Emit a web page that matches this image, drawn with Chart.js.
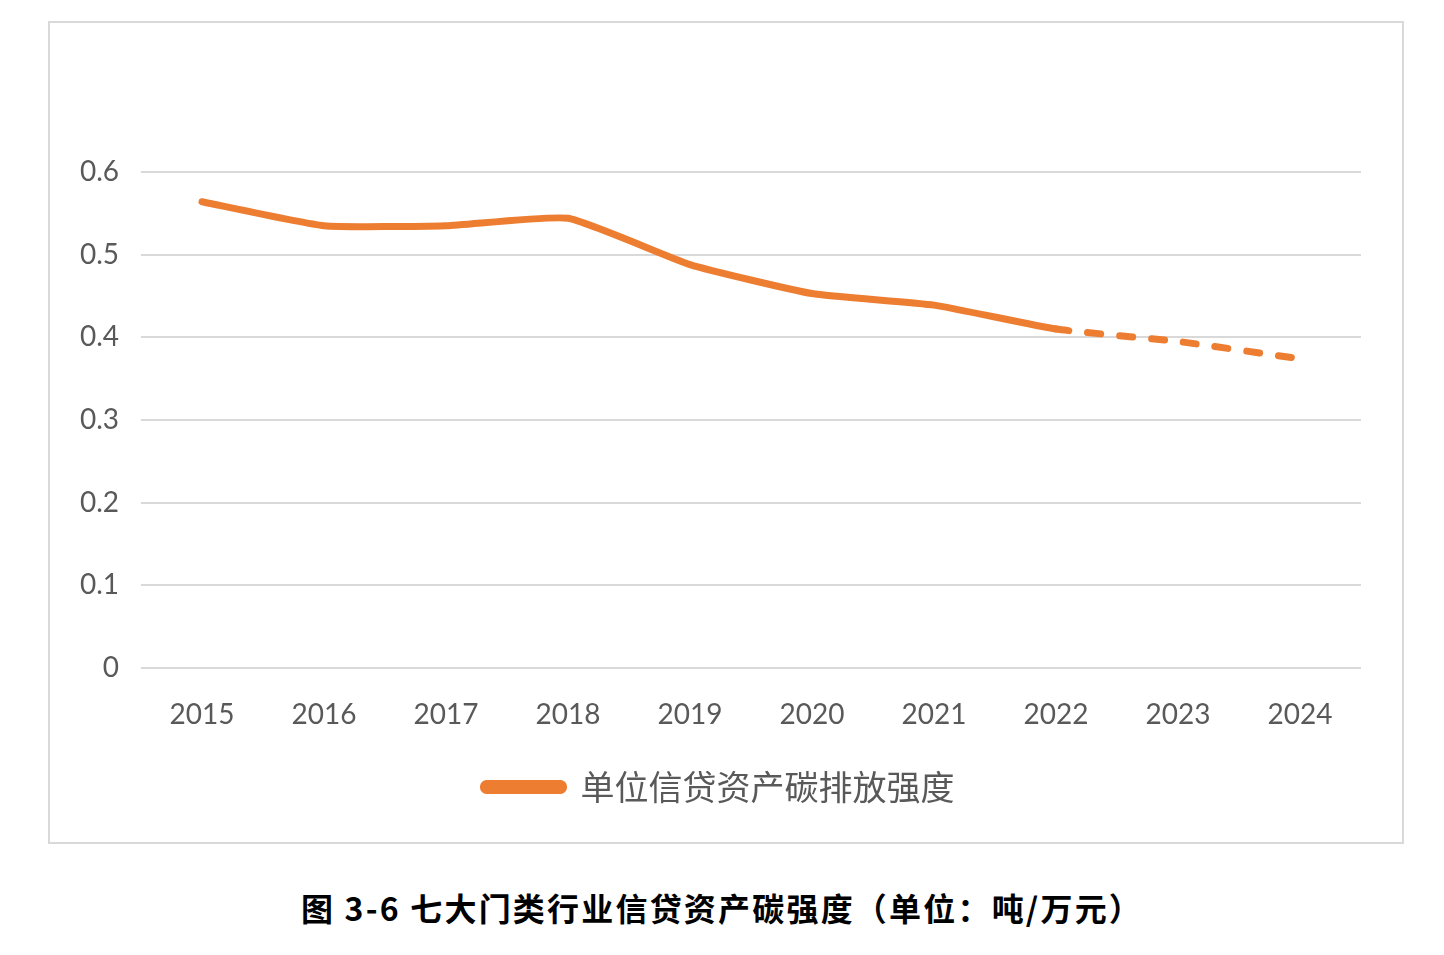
<!DOCTYPE html>
<html>
<head>
<meta charset="utf-8">
<script src="https://cdn.jsdelivr.net/npm/chart.js@4"></script>
<style>
  html, body { margin: 0; padding: 0; background: #fff; width: 1444px; height: 955px; overflow: hidden; }
  #box { position: absolute; left: 48px; top: 21px; width: 1356px; height: 823px; border: 2px solid #d9d9d9; box-sizing: border-box; }
  #chart { position: absolute; left: 77px; top: 23px; }
  #caption { position: absolute; left: 0; width: 1444px; top: 884px; text-align: center; letter-spacing: 2.2px;
    font-family: "Noto Sans CJK SC", sans-serif; font-weight: 700; font-size: 32px; color: #000; }
</style>
</head>
<body>
<div id="box"></div>
<canvas id="chart" width="1325" height="819"></canvas>
<div id="caption">图 3-6 七大门类行业信贷资产碳强度（单位：吨/万元）</div>
<script>
    // years on the x axis
    var years = ['2015', '2016', '2017', '2018', '2019', '2020', '2021', '2022', '2023', '2024'];
    // carbon intensity per unit of credit assets (t / 10k yuan)
    var intensity = [0.564, 0.535, 0.535, 0.544, 0.488, 0.453, 0.439, 0.410, 0.395, 0.374];
    // from this index on the line is a forecast (dashed)
    var forecastFrom = 7;
    var seriesName = '单位信贷资产碳排放强度';

    var orange = '#ed7d31';
    var textGray = '#595959';

    var ctx = document.getElementById('chart').getContext('2d');

    var chart = new Chart(ctx, {
        type: 'line',
        data: {
            labels: years,
            datasets: [{
                label: seriesName,
                data: intensity,
                borderColor: orange,
                backgroundColor: orange,
                borderWidth: 7,
                borderCapStyle: 'round',
                borderJoinStyle: 'round',
                tension: 0.15,
                pointRadius: 0,
                segment: {
                    borderDash: function (c) {
                        return c.p0DataIndex >= forecastFrom ? [13, 19] : undefined;
                    }
                }
            }]
        },
        options: {
            responsive: false,
            animation: false,
            layout: {
                padding: { top: 149, right: 41, bottom: 28, left: 0 }
            },
            plugins: {
                tooltip: { enabled: false },
                legend: {
                    position: 'bottom',
                    labels: {
                        boxWidth: 80,
                        boxHeight: 7,
                        useBorderRadius: true,
                        borderRadius: 3,
                        padding: 10,
                        color: textGray,
                        font: { family: '"Noto Sans CJK SC", sans-serif', size: 34 }
                    }
                }
            },
            scales: {
                x: {
                    offset: true,
                    grid: { display: false, drawTicks: false },
                    border: { display: false },
                    ticks: {
                        padding: 30,
                        color: textGray,
                        font: { family: 'Lato, "Open Sans", sans-serif', size: 28 }
                    },
                    afterFit: function (s) { s.height = 92; }
                },
                y: {
                    min: 0,
                    max: 0.6,
                    ticks: {
                        stepSize: 0.1,
                        padding: 22,
                        color: textGray,
                        font: { family: 'Lato, "Open Sans", sans-serif', size: 28 },
                        callback: function (v) { return v === 0 ? '0' : v.toFixed(1); }
                    },
                    grid: { color: '#d9d9d9', lineWidth: 2, drawTicks: false },
                    border: { display: false },
                    afterFit: function (s) { s.width = 64; }
                }
            }
        }
    });
</script>
</body>
</html>
